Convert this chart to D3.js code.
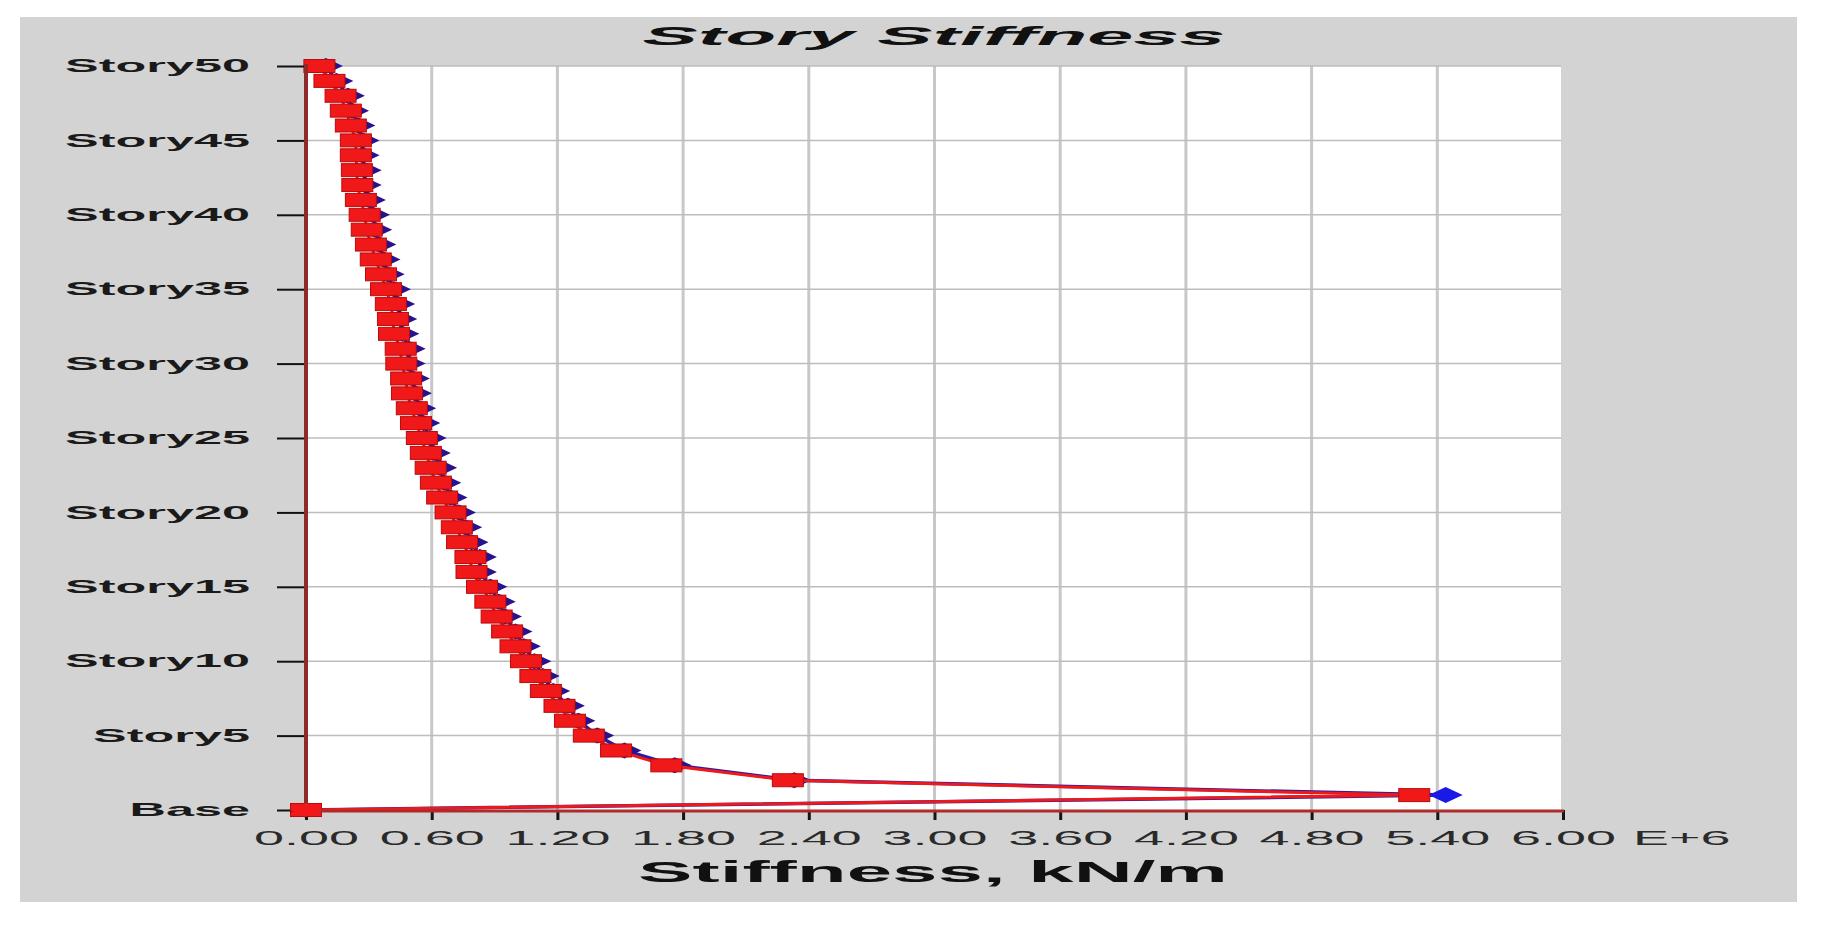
<!DOCTYPE html>
<html><head><meta charset="utf-8">
<script src="https://cdn.jsdelivr.net/npm/d3@7"></script>
<style>html,body{margin:0;padding:0;background:#fff;} svg{display:block;}</style>
</head><body>
<svg id="chart" width="1825" height="926"></svg>
<script>
// ---------- data ----------
const stories = ["Base","Story1","Story2","Story3","Story4","Story5","Story6","Story7","Story8","Story9","Story10",
  "Story11","Story12","Story13","Story14","Story15","Story16","Story17","Story18","Story19","Story20",
  "Story21","Story22","Story23","Story24","Story25","Story26","Story27","Story28","Story29","Story30",
  "Story31","Story32","Story33","Story34","Story35","Story36","Story37","Story38","Story39","Story40",
  "Story41","Story42","Story43","Story44","Story45","Story46","Story47","Story48","Story49","Story50"];
const storyTickIndex = [0,5,10,15,20,25,30,35,40,45,50];
const xTickValues = [0,0.6,1.2,1.8,2.4,3.0,3.6,4.2,4.8,5.4,6.0];
// stiffness in E+6 kN/m, Base..Story50
const redValues = [0, 5.29, 2.30, 1.72, 1.48, 1.35, 1.26, 1.21, 1.145, 1.095, 1.05,
  1.00, 0.96, 0.91, 0.88, 0.84, 0.79, 0.785, 0.745, 0.72, 0.69,
  0.65, 0.62, 0.595, 0.572, 0.553, 0.525, 0.505, 0.482, 0.478, 0.455,
  0.452, 0.42, 0.415, 0.405, 0.382, 0.358, 0.333, 0.31, 0.29, 0.28,
  0.262, 0.245, 0.243, 0.238, 0.238, 0.214, 0.19, 0.165, 0.112, 0.064];
const blueValues = [0, 5.44, 2.33, 1.76, 1.52, 1.39, 1.30, 1.25, 1.18, 1.13, 1.09,
  1.04, 1.00, 0.95, 0.92, 0.88, 0.83, 0.83, 0.79, 0.76, 0.73,
  0.69, 0.66, 0.64, 0.61, 0.59, 0.56, 0.54, 0.52, 0.51, 0.49,
  0.49, 0.46, 0.45, 0.44, 0.42, 0.39, 0.37, 0.35, 0.33, 0.32,
  0.30, 0.28, 0.28, 0.27, 0.27, 0.25, 0.22, 0.20, 0.145, 0.095];
const chartTitle = "Story Stiffness";
const xAxisTitle = "Stiffness, kN/m";
const xExponent = "E+6";

// ---------- layout ----------
const svg = d3.select("#chart");
const FONT = "'Liberation Sans', Arial, Helvetica, sans-serif";
const plot = {left: 306, right: 1563, top: 66, bottom: 810};
const x = d3.scaleLinear().domain([0, 6]).range([plot.left, plot.right]);
const y = d3.scaleLinear().domain([0, 50]).range([plot.bottom, plot.top]);

function measure(txt, size, weight, style) {
  const t = svg.append("text").attr("font-family", FONT).attr("font-size", size)
    .attr("font-weight", weight).attr("font-style", style || "normal").text(txt);
  const w = t.node().getComputedTextLength();
  t.remove();
  return w;
}

// background panel
svg.append("rect").attr("x", 20).attr("y", 17).attr("width", 1777).attr("height", 885).attr("fill", "#d3d3d3");
// plot area
svg.append("rect").attr("x", plot.left).attr("y", plot.top)
  .attr("width", plot.right - plot.left - 2).attr("height", plot.bottom - plot.top).attr("fill", "#ffffff");

// grid
const grid = svg.append("g");
grid.selectAll("line.v").data(xTickValues.filter(v => v > 0 && v < 6)).join("line")
  .attr("x1", d => x(d)).attr("x2", d => x(d)).attr("y1", plot.top).attr("y2", plot.bottom)
  .attr("stroke", "#c8c8c8").attr("stroke-width", 3);
grid.selectAll("line.h").data(storyTickIndex.filter(v => v > 0)).join("line")
  .attr("x1", plot.left).attr("x2", plot.right - 2).attr("y1", d => y(d)).attr("y2", d => y(d))
  .attr("stroke", "#bdbdbd").attr("stroke-width", 1.5);

// ---------- series ----------
const lineGen = (vals) => d3.line().x((d, i) => x(vals[i])).y((d, i) => y(i))(stories);

function drawBlue() {
  svg.append("path").attr("d", lineGen(blueValues)).attr("fill", "none")
    .attr("stroke", "#2a1aa8").attr("stroke-width", 3.5);
  const dw = 17, dh = 8;
  svg.append("g").selectAll("path").data(stories).join("path")
    .attr("d", (d, i) => {
      const cx = x(blueValues[i]), cy = y(i);
      return `M${cx - dw},${cy}L${cx},${cy - dh}L${cx + dw},${cy}L${cx},${cy + dh}Z`;
    })
    .attr("fill", (d, i) => i === 1 ? "#1a1ae6" : "#2a128f");
}
function drawRed() {
  svg.append("path").attr("d", lineGen(redValues)).attr("fill", "none")
    .attr("stroke", "#ee1a1a").attr("stroke-width", 3);
  const rw = 31, rh = 13;
  svg.append("g").selectAll("rect").data(stories).join("rect")
    .attr("x", (d, i) => x(redValues[i]) - rw / 2).attr("y", (d, i) => y(i) - rh / 2)
    .attr("width", rw).attr("height", rh)
    .attr("fill", "#f01818").attr("stroke", "#b80c0c").attr("stroke-width", 1);
}
drawBlue();
drawRed();

// ---------- axes ----------
// y axis
const kY = 185 / measure("Story50", 19, "bold");
const yAxis = svg.append("g").attr("transform", `translate(${plot.left},0)`)
  .call(d3.axisLeft(y).tickValues(storyTickIndex).tickFormat(i => stories[i]).tickSize(29));
yAxis.select(".domain").remove();
yAxis.selectAll(".tick line").attr("stroke", "#111").attr("stroke-width", 2);
yAxis.selectAll(".tick text")
  .attr("font-family", FONT).attr("font-size", 19).attr("font-weight", "bold").attr("fill", "#1a1a1a")
  .attr("x", -56 / kY).attr("dy", "0.3em").attr("transform", `scale(${kY},1)`);

// x axis
const kX = 105 / measure("0.00", 21, "normal");
const xAxis = svg.append("g").attr("transform", `translate(0,${plot.bottom})`)
  .call(d3.axisBottom(x).tickValues(xTickValues).tickFormat(d3.format(".2f")).tickSize(10));
xAxis.select(".domain").remove();
xAxis.selectAll(".tick line").attr("stroke", "#151515").attr("stroke-width", 3);
xAxis.selectAll(".tick text")
  .attr("font-family", FONT).attr("font-size", 21).attr("fill", "#2a2a2a")
  .attr("y", 35).attr("dy", 0).attr("transform", `scale(${kX},1)`);
svg.append("text").attr("transform", `translate(1633,845) scale(${kX},1)`)
  .attr("font-family", FONT).attr("font-size", 21).attr("fill", "#2a2a2a").text(xExponent);

// axis lines
svg.append("line").attr("x1", plot.left).attr("x2", plot.left).attr("y1", plot.top - 2).attr("y2", plot.bottom + 4)
  .attr("stroke", "#8e2a2a").attr("stroke-width", 4);
svg.append("line").attr("x1", plot.left).attr("x2", plot.right + 1).attr("y1", plot.bottom + 1).attr("y2", plot.bottom + 1)
  .attr("stroke", "#b02a2a").attr("stroke-width", 3);

// redraw base marker over axis
svg.append("path").attr("d", () => {
  const cx = x(redValues[0]), cy = y(0);
  return `M${cx - 17},${cy}L${cx},${cy - 7}L${cx + 17},${cy}L${cx},${cy + 7}Z`;
}).attr("fill", "#f01818");

// titles
const kT = 583 / measure(chartTitle, 25, "bold", "italic");
svg.append("text").attr("transform", `translate(934,45) scale(${kT},1)`).attr("text-anchor", "middle")
  .attr("font-family", FONT).attr("font-size", 25).attr("font-weight", "bold").attr("font-style", "italic")
  .attr("fill", "#111").text(chartTitle);
const kA = 590 / measure(xAxisTitle, 30, "bold");
svg.append("text").attr("transform", `translate(933,882) scale(${kA},1)`).attr("text-anchor", "middle")
  .attr("font-family", FONT).attr("font-size", 30).attr("font-weight", "bold")
  .attr("fill", "#111").text(xAxisTitle);
</script>
</body></html>
